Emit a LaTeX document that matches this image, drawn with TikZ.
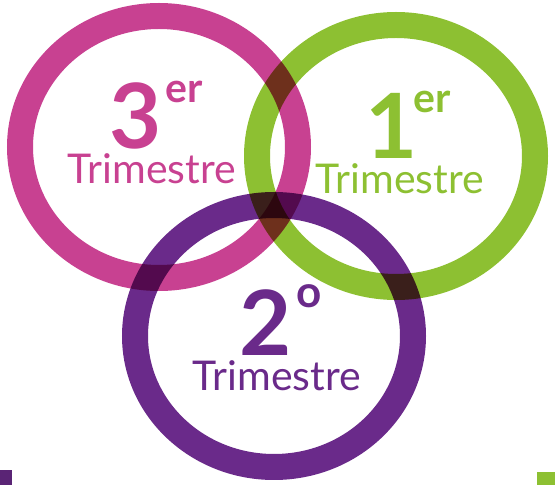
\documentclass[tikz,border=0pt]{standalone}
\usepackage{fontspec}
\setmainfont{Lato}
\usepackage{xcolor}
\usepackage{tikz}
\usetikzlibrary{positioning}
\definecolor{thirdq}{RGB}{200,65,145}
\definecolor{firstq}{RGB}{141,192,50}
\definecolor{secondq}{RGB}{106,42,138}

\begin{document}
\begin{tikzpicture}[x=1pt,y=1pt,
  ring/.style={line width=26pt},
  numeral/.style={inner sep=0pt,anchor=base,font=\bfseries\fontsize{90}{90}\selectfont},
  ordinal/.style={inner sep=0pt,anchor=base west,font=\bfseries\fontsize{41}{41}\selectfont},
  term/.style={inner sep=0pt,anchor=base,font=\fontsize{41}{41}\selectfont}
]
\useasboundingbox (0,0) rectangle (555,485);
% the three rings, overlaps darkened
\begin{scope}[blend group=multiply]
\draw[ring,draw=thirdq] (159,338) ellipse [x radius=139,y radius=131];
\draw[ring,draw=firstq] (396,329) ellipse [x radius=139,y radius=131];
\draw[ring,draw=secondq] (274,149) ellipse [x radius=139,y radius=131];
\end{scope}
% edge scraps
\fill[secondq!85!black] (0,0) rectangle (12,15);
\fill[firstq] (537,0) rectangle (555,13);
% labels
\node[numeral,text=thirdq] (three) at (136,336) {3};
\node[ordinal,text=thirdq] (threesup) at (165,382) {er};
\node[term,text=thirdq] (thirdterm) at (152,301) {Trimestre};
\node[numeral,text=firstq] (one) at (392,326) {1};
\node[ordinal,text=firstq] (onesup) at (413,372) {er};
\node[term,text=firstq] (firstterm) at (400,291) {Trimestre};
\node[numeral,text=secondq] (two) at (266,129) {2};
\node[ordinal,text=secondq,font=\bfseries\fontsize{44}{44}\selectfont] (twosup) at (296,177) {o};
\node[term,text=secondq] (secondterm) at (277,94) {Trimestre};
\end{tikzpicture}
\end{document}
